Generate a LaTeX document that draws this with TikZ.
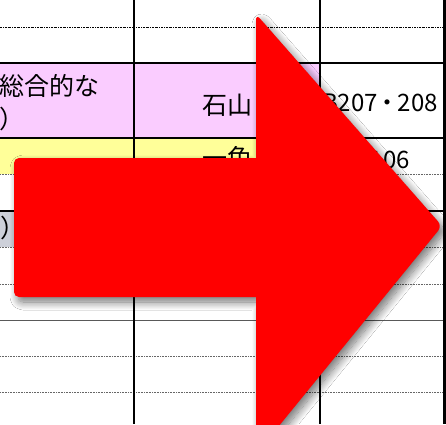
\documentclass[tikz,border=0pt]{standalone}
\usepackage{fontspec}
\newfontfamily\jp{Noto Sans CJK JP}
\usetikzlibrary{shadows.blur}
\definecolor{pinkcell}{HTML}{FACCFF}
\definecolor{yellowcell}{HTML}{FFFF99}
\definecolor{graycell}{HTML}{CDD0D9}
\definecolor{arrowred}{HTML}{FF0000}
\tikzset{
  thickrule/.style={line width=2pt, black},
  thinrule/.style={line width=0.7pt, gray!80!black, dash pattern=on 1pt off 0.6pt},
  toprule/.style={line width=0.6pt, black, dash pattern=on 2pt off 1pt on 0.6pt off 1pt},
  hairrule/.style={line width=0.8pt, gray!70!black},
  celltext/.style={inner sep=0pt, anchor=base, font=\jp\fontsize{25}{25}\selectfont},
  numtext/.style={inner sep=0pt, anchor=base, font=\jp\fontsize{24}{24}\selectfont},
  bigarrow/.style={fill=arrowred, draw=none,
    blur shadow={shadow xshift=4pt, shadow yshift=-5pt, shadow blur radius=8pt, shadow opacity=55, shadow blur steps=14}}
}
\begin{document}
\begin{tikzpicture}[x=1pt, y=-1pt]
\useasboundingbox (0,0) rectangle (446,424);
\clip (0,0) rectangle (446,424);
\fill[white] (0,0) rectangle (446,424);
% cell fills
\fill[pinkcell] (0,62) rectangle (320,138);
\fill[yellowcell] (0,138) rectangle (320,174);
\fill[graycell] (0,211) rectangle (134,247);
% horizontal rules
\draw[toprule] (0,27) -- (446,27);
\draw[thinrule] (0,174) -- (446,174);
\draw[thinrule] (0,247.5) -- (446,247.5);
\draw[thinrule] (0,284) -- (446,284);
\draw[hairrule] (0,320) -- (446,320);
\draw[thinrule] (0,356) -- (446,356);
\draw[thinrule] (0,392) -- (446,392);
\draw[thickrule] (0,62.7) -- (446,62.7);
\draw[thickrule, line width=2.8pt] (0,138) -- (446,138);
\draw[thickrule] (0,211.3) -- (446,211.3);
% vertical rules
\draw[thickrule] (134,0) -- (134,424);
\draw[thickrule] (319.7,0) -- (319.7,424);
\draw[thickrule, line width=3.5pt] (444.5,0) -- (444.5,424);
% texts
\node[celltext, anchor=base west] (t1) at (-1,95) {総合的な};
\node[celltext, anchor=base west] (t2) at (-1,128) {）};
\node[celltext] (t3) at (227,114) {石山};
\node[numtext] (t4) at (380,111) {B207\kern-2pt・\kern-2pt208};
\node[celltext] (t5) at (227,167) {一色};
\node[numtext] (t6) at (382,168) {B106};
\node[celltext, anchor=base west] (t7) at (0,237) {）};
% big arrow
\path[bigarrow, rounded corners=5pt]
  (14,158) [sharp corners] -- (256,158) [rounded corners=6pt] -- (256,14) -- (442,226) -- (256,454) [sharp corners] -- (256,297) [rounded corners=5pt] -- (14,297) -- cycle;
\end{tikzpicture}
\end{document}
